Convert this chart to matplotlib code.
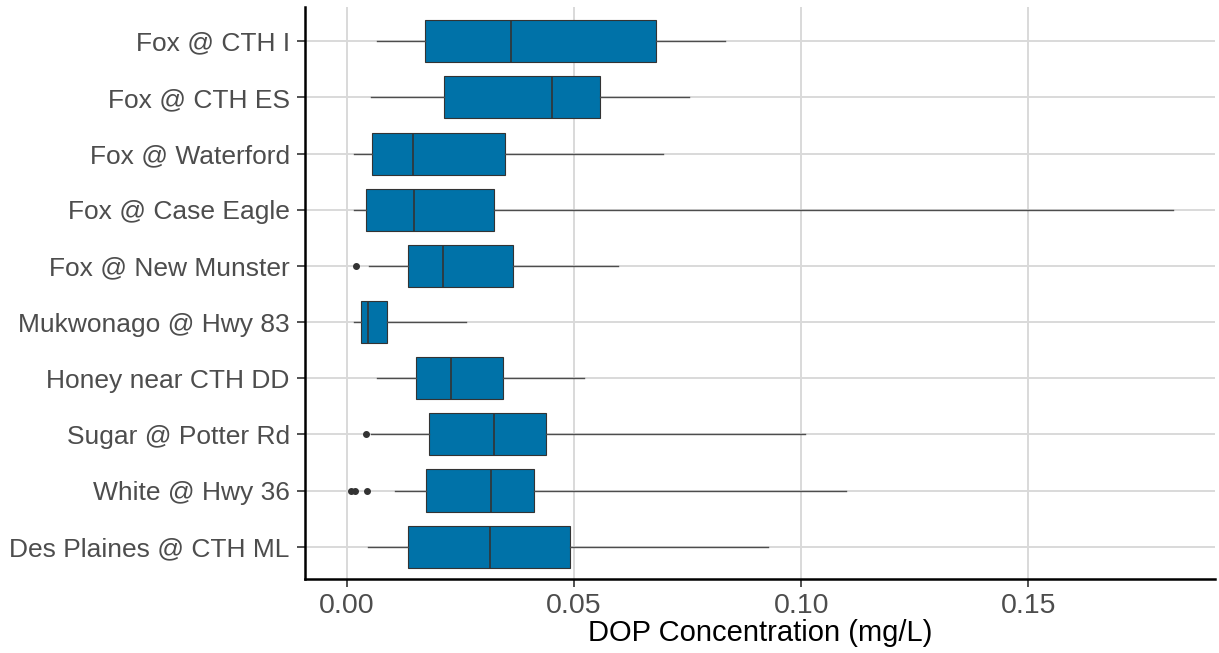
import matplotlib
matplotlib.use("Agg")
import matplotlib.pyplot as plt

plt.rcParams["font.family"] = ["Liberation Sans", "DejaVu Sans"]

# sites, bottom to top
sites = ["Des Plaines @ CTH ML", "White @ Hwy 36", "Sugar @ Potter Rd",
         "Honey near CTH DD", "Mukwonago @ Hwy 83", "Fox @ New Munster",
         "Fox @ Case Eagle", "Fox @ Waterford", "Fox @ CTH ES", "Fox @ CTH I"]
whislo = [0.0047, 0.0106, 0.0053, 0.0065, 0.0015, 0.0049, 0.0015, 0.0015, 0.0052, 0.0065]
q1 = [0.0134, 0.0173, 0.0180, 0.0152, 0.0031, 0.0135, 0.0042, 0.0054, 0.0214, 0.0171]
med = [0.0315, 0.0318, 0.0324, 0.0230, 0.0046, 0.0211, 0.0147, 0.0145, 0.0451, 0.0361]
q3 = [0.0492, 0.0412, 0.0439, 0.0343, 0.0089, 0.0365, 0.0324, 0.0348, 0.0557, 0.0680]
whishi = [0.0926, 0.1099, 0.1009, 0.0521, 0.0263, 0.0596, 0.1819, 0.0695, 0.0752, 0.0832]
outliers = [[], [0.0008, 0.0018, 0.0043], [0.0041], [], [], [0.0019], [], [], [], []]

stats = [dict(label=s, whislo=a, q1=b, med=c, q3=d, whishi=e, fliers=f)
         for s, a, b, c, d, e, f in zip(sites, whislo, q1, med, q3, whishi, outliers)]

fig = plt.figure(figsize=(12.19, 6.53), dpi=100)
ax = fig.add_axes([0.2502, 0.1129, 0.7465, 0.8764])

ax.bxp(stats, positions=range(1, len(sites) + 1), vert=False, widths=0.75,
       patch_artist=True, showcaps=False,
       boxprops=dict(facecolor="#0072a8", edgecolor="#333333", linewidth=0.8),
       medianprops=dict(color="#333333", linewidth=1.2),
       whiskerprops=dict(color="#4d4d4d", linewidth=1.0),
       flierprops=dict(marker="o", markersize=4, markerfacecolor="#333333",
                       markeredgecolor="#333333"))

ax.set_xlim(-0.00925, 0.1911)
ax.set_ylim(0.42, 10.61)
ax.set_xticks([0.0, 0.05, 0.10, 0.15])
ax.set_xticklabels(["0.00", "0.05", "0.10", "0.15"])
ax.set_yticks(range(1, len(sites) + 1))
ax.set_yticklabels(sites)

ax.grid(True, color="#d9d9d9", linewidth=1.4)
ax.set_axisbelow(True)
for side in ["top", "right"]:
    ax.spines[side].set_visible(False)
for side in ["left", "bottom"]:
    ax.spines[side].set_linewidth(1.8)
    ax.spines[side].set_color("black")

ax.tick_params(axis="both", length=6, width=1.2, color="#333333",
               labelcolor="#4d4d4d")
ax.tick_params(axis="y", labelsize=19, pad=5)
ax.tick_params(axis="x", labelsize=20.5, pad=4)
ax.set_xlabel("DOP Concentration (mg/L)", fontsize=21, color="black", labelpad=0)

fig.savefig("out.png", dpi=100)
